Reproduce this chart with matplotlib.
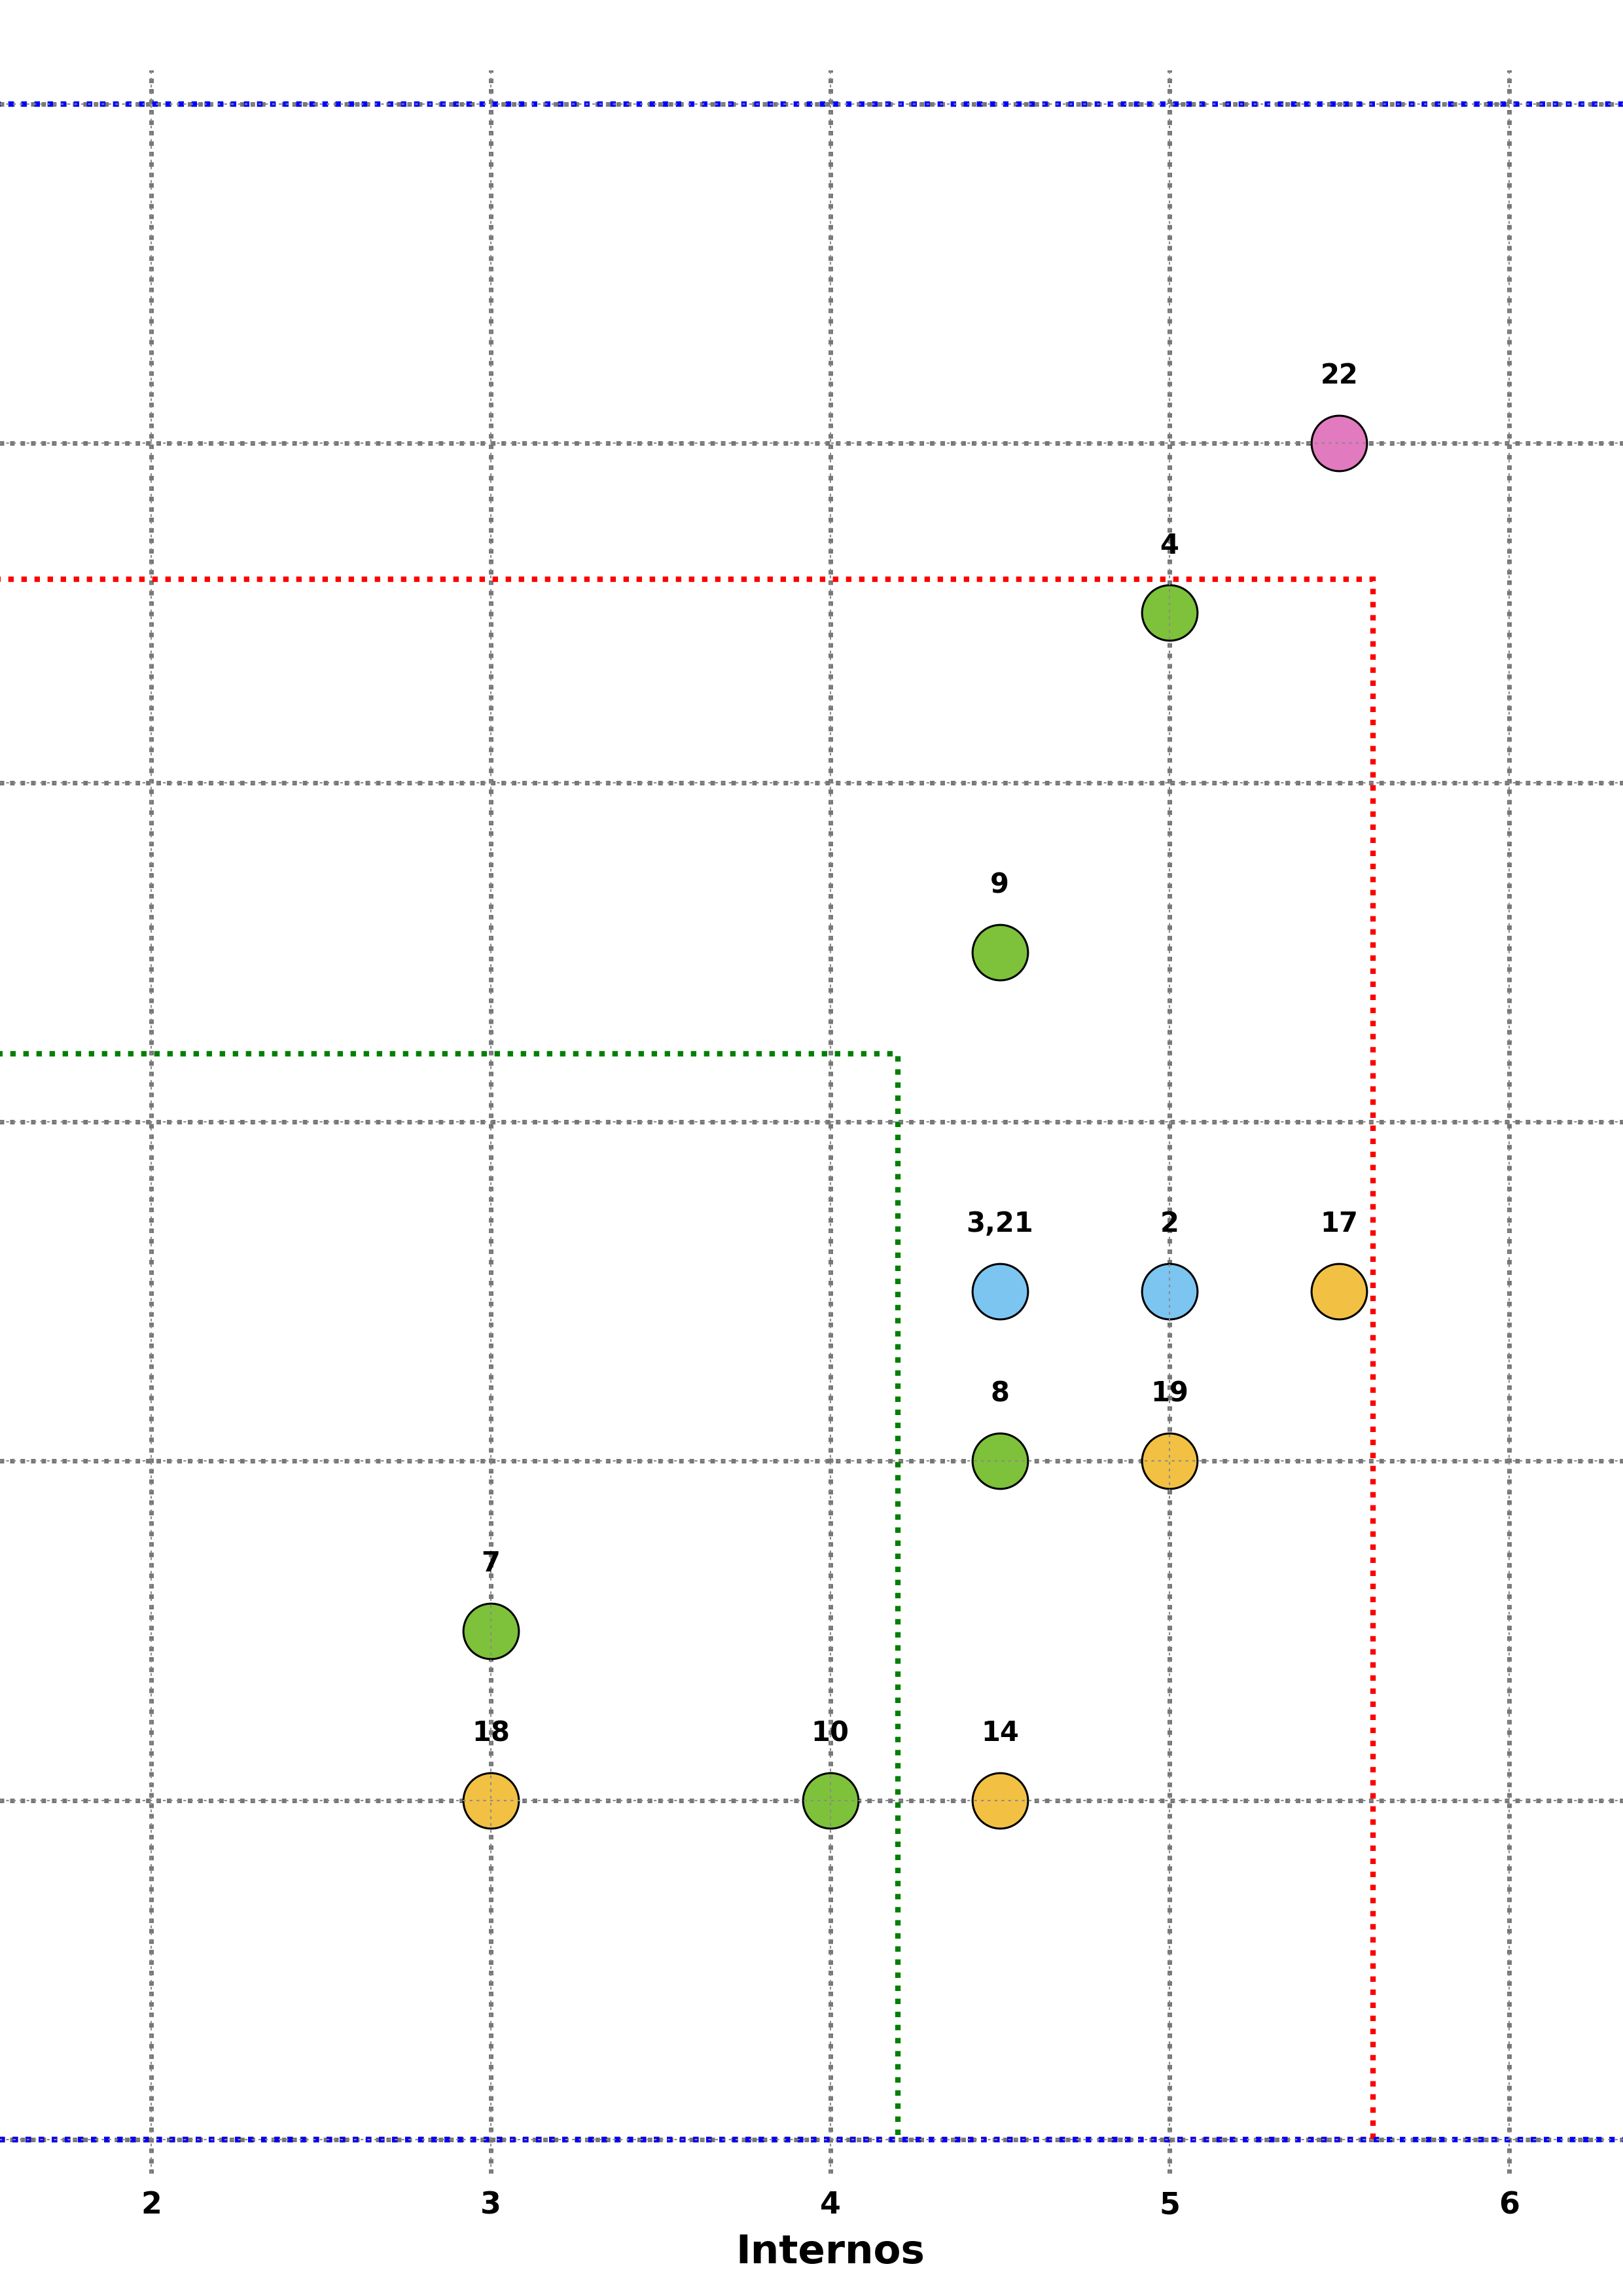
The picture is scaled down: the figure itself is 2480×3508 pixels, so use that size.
import matplotlib
matplotlib.use("Agg")
import matplotlib.pyplot as plt
from matplotlib.patches import Rectangle

# ---- data ----
labels = ["22", "4", "9", "3,21", "2", "17", "8", "19", "7", "18", "10", "14"]
internos = [5.5, 5.0, 4.5, 4.5, 5.0, 5.5, 4.5, 5.0, 3.0, 3.0, 4.0, 4.5]
externos = [6.0, 5.5, 4.5, 3.5, 3.5, 3.5, 3.0, 3.0, 2.5, 2.0, 2.0, 2.0]
groups = ["pink", "green", "green", "blue", "blue", "orange", "green", "orange",
          "green", "orange", "green", "orange"]
group_colors = {"green": "#7DC23A", "blue": "#7CC5F1", "orange": "#F2C143", "pink": "#E27AC0"}
xticks = [1, 2, 3, 4, 5, 6, 7]
xticklabels = ["", "2", "3", "4", "5", "6", ""]
yticks = [1, 2, 3, 4, 5, 6, 7]
# zones (upper limit on both axes, starting at 1)
zone_limits = [7.0, 5.6, 4.2]
zone_colors = ["blue", "red", "green"]

fig = plt.figure(figsize=(24.8, 35.08), dpi=100)
ax = fig.add_axes([-0.1367, 0.0533, 1.2964, 0.9162])
ax.set_xlim(0.9, 7.1)
ax.set_ylim(0.9, 7.1)
ax.set_xticks(xticks)
ax.set_xticklabels(xticklabels)
ax.set_yticks(yticks)
ax.set_yticklabels([])
for s in ax.spines.values():
    s.set_visible(False)
ax.tick_params(length=0, pad=19, labelsize=33)
for t in ax.get_xticklabels():
    t.set_fontweight("bold")

# thick dotted grid beneath
ax.set_axisbelow(True)
ax.grid(True, color="#777777", linewidth=5, linestyle=(0, (1, 1.3)))
# thin grid on top
for xv in xticks:
    ax.axvline(xv, color="#8a8a8a", lw=1.5, ls=(0, (2, 3)), zorder=6)
for yv in yticks:
    ax.axhline(yv, color="#8a8a8a", lw=1.5, ls=(0, (2, 3)), zorder=6)

# zone rectangles
for lim, c in zip(zone_limits[::-1], zone_colors[::-1]):
    ax.add_patch(Rectangle((1, 1), lim - 1, lim - 1, fill=False, edgecolor=c,
                           lw=6, ls=(0, (1, 1.4)), zorder=3))

# points
for x, y, g, lab in zip(internos, externos, groups, labels):
    ax.plot(x, y, "o", ms=61, mfc=group_colors[g], mec="black", mew=2.2, zorder=4)
    ax.annotate(lab, (x, y), xytext=(0, 74), textcoords="offset points",
                ha="center", va="center", fontsize=30, fontweight="heavy", zorder=7)

ax.set_xlabel("Internos", fontsize=44, fontweight="heavy", labelpad=14)

fig.savefig("out.png", dpi=100)
